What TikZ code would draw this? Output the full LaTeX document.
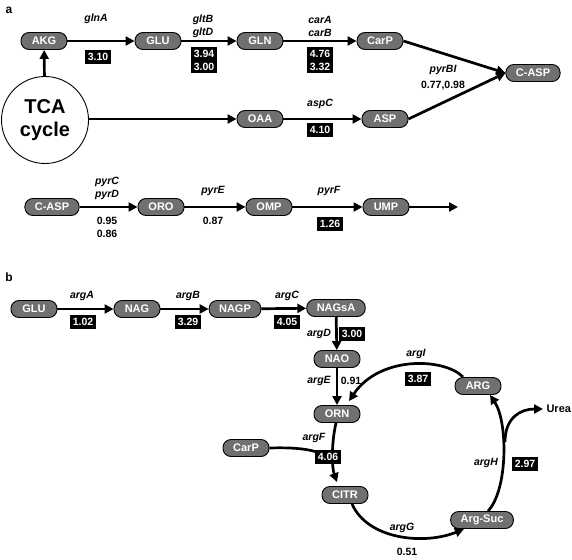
\documentclass[tikz,border=0pt]{standalone}
\usepackage{fontspec}
\setmainfont{Liberation Sans}
\usetikzlibrary{arrows.meta}
\definecolor{metgray}{RGB}{112,112,112}

\begin{document}
\begin{tikzpicture}[x=1pt,y=-1pt,
    met/.style={draw=black, line width=0.9pt, fill=metgray, text=white,
      font=\fontsize{11}{12}\selectfont\bfseries, rounded corners=8pt,
      minimum height=17pt, minimum width=46pt, inner xsep=10pt, inner ysep=0pt},
    val/.style={fill=black, text=white, font=\fontsize{10.5}{13}\selectfont\bfseries,
      inner xsep=3pt, inner ysep=3pt, align=center},
    gene/.style={font=\fontsize{10.5}{13}\selectfont\bfseries\itshape, align=center},
    num/.style={font=\fontsize{10.5}{13}\selectfont\bfseries, align=center},
    flow/.style={-{Triangle[length=9pt,width=9pt]}, line width=2.7pt},
    link/.style={line width=2.7pt}]
  \useasboundingbox (0,0) rectangle (572,559);

  \node[font=\fontsize{12}{14}\selectfont\bfseries] (lbla) at (9,10) {a};
  \node[font=\fontsize{12}{14}\selectfont\bfseries] (lblb) at (9,277) {b};

  \node[met] (akg)  at (44,41)  {AKG};
  \node[met] (glu)  at (158,41) {GLU};
  \node[met] (gln)  at (260,41) {GLN};
  \node[met] (carp) at (380,41) {CarP};
  \node[met] (casp) at (533,73) {C-ASP};
  \node[met] (oaa)  at (260,119) {OAA};
  \node[met] (asp)  at (385,119) {ASP};
  \node[circle, draw, line width=0.9pt, minimum size=87pt, inner sep=0pt,
    font=\fontsize{20}{23}\selectfont\bfseries, align=center] (tca) at (45,120) {TCA\\cycle};

  \draw[flow] (akg) -- (glu);
  \draw[flow] (glu) -- (gln);
  \draw[flow] (gln) -- (carp);
  \draw[flow] (carp.east) -- (casp.west);
  \draw[flow] (asp.east) -- (casp.west);
  \draw[flow] (oaa) -- (asp);
  \draw[flow] (tca) -- (akg);
  \draw[flow] (tca.east |- oaa) -- (oaa);

  \node[gene] at (96,19) {glnA};
  \node[val]  at (98,57) {3.10};
  \node[gene] at (203,26) {gltB\\gltD};
  \node[val]  at (204,60) {3.94\\3.00};
  \node[gene] at (320,26) {carA\\carB};
  \node[val]  at (320,60) {4.76\\3.32};
  \node[gene] at (443,70) {pyrBI};
  \node[num]  at (443,86) {0.77,0.98};
  \node[gene] at (320,104) {aspC};
  \node[val]  at (320,130) {4.10};

  \node[met] (casp2) at (52,207)  {C-ASP};
  \node[met] (oro)   at (161,207) {ORO};
  \node[met] (omp)   at (269,207) {OMP};
  \node[met] (ump)   at (386,207) {UMP};
  \coordinate (umpout) at (458,207);

  \draw[flow] (casp2) -- (oro);
  \draw[flow] (oro) -- (omp);
  \draw[flow] (omp) -- (ump);
  \draw[flow] (ump) -- (umpout);

  \node[gene] at (107,188) {pyrC\\pyrD};
  \node[num]  at (107,227) {0.95\\0.86};
  \node[gene] at (213,191) {pyrE};
  \node[num]  at (213,221) {0.87};
  \node[gene] at (329,191) {pyrF};
  \node[val]  at (330,224) {1.26};

  \node[met] (glub)  at (34,309)  {GLU};
  \node[met] (nag)   at (137,309) {NAG};
  \node[met] (nagp)  at (235,309) {NAGP};
  \node[met] (nagsa) at (336,308) {NAGsA};
  \node[met] (nao)   at (337,359) {NAO};
  \node[met] (orn)   at (337,414) {ORN};
  \node[met] (arg)   at (478,386) {ARG};
  \node[met] (carpb) at (246,448) {CarP};
  \node[met] (citr)  at (345,495) {CITR};
  \node[met] (argsuc) at (482,520) {Arg-Suc};
  \node[font=\fontsize{11}{12}\selectfont\bfseries, anchor=west] (urea) at (543,409) {Urea};

  \draw[flow] (glub) -- (nag);
  \draw[flow] (nag) -- (nagp);
  \draw[flow] (nagp) -- (nagsa);
  \draw[flow] (nagsa) -- (nao);
  \draw[flow] (nao) -- (orn);
  \draw[flow] ([xshift=-15pt]arg.north) .. controls (445,358) and (380,355) .. ([xshift=12pt,yshift=4pt]orn.north);
  \draw[flow] ([xshift=-1pt]orn.south) .. controls (331,445) and (332,468) .. ([xshift=-8pt,yshift=4pt]citr.north);
  \coordinate (join) at (333,462);
  \draw[link] (carpb.east) .. controls (300,447) and (324,450) .. (join);
  \draw[flow] ([xshift=7pt]citr.south) .. controls (368,540) and (425,545) .. ([xshift=-18pt]argsuc.south);
  \draw[flow] ([xshift=6pt]argsuc.north) .. controls (508,490) and (508,422) .. ([xshift=12pt]arg.south);
  \coordinate (branch) at (505,442);
  \draw[flow] (branch) .. controls (505,418) and (520,409) .. (urea.west);

  \node[gene] at (82,296)  {argA};
  \node[val]  at (83,322)  {1.02};
  \node[gene] at (188,296) {argB};
  \node[val]  at (188,322) {3.29};
  \node[gene] at (287,296) {argC};
  \node[val]  at (287,322) {4.05};
  \node[gene] at (319,334) {argD};
  \node[val]  at (352,334) {3.00};
  \node[gene] at (319,381) {argE};
  \node[num]  at (351,381) {0.91};
  \node[gene] at (416,354) {argI};
  \node[val]  at (418,379) {3.87};
  \node[gene] at (314,438) {argF};
  \node[val]  at (328,457) {4.06};
  \node[gene] at (402,528) {argG};
  \node[num]  at (407,552) {0.51};
  \node[gene] at (486,463) {argH};
  \node[val]  at (525,464) {2.97};
\end{tikzpicture}
\end{document}
